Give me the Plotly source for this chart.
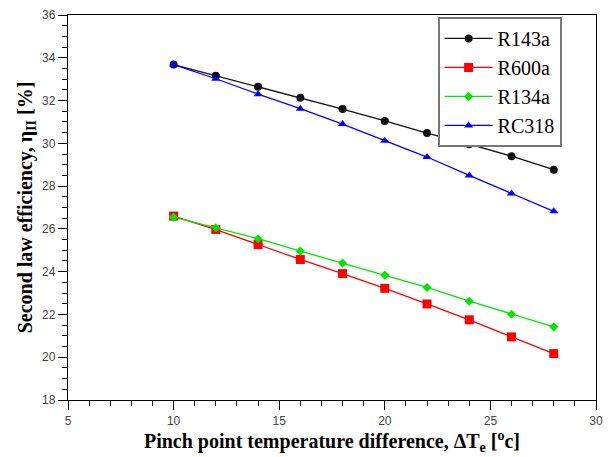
import plotly.graph_objects as go

# pinch point temperature difference [°C]
dT = [10, 12, 14, 16, 18, 20, 22, 24, 26, 28]

# second law efficiency [%] per working fluid
eta_R143a = [33.68, 33.16, 32.65, 32.13, 31.60, 31.05, 30.48, 29.96, 29.40, 28.77]
eta_R600a = [26.60, 25.97, 25.27, 24.57, 23.91, 23.22, 22.49, 21.75, 20.95, 20.17]
eta_R134a = [26.55, 26.05, 25.54, 24.96, 24.40, 23.84, 23.26, 22.62, 22.01, 21.42]
eta_RC318 = [33.68, 33.02, 32.30, 31.62, 30.90, 30.12, 29.36, 28.50, 27.66, 26.82]

series = [
    ('R143a', eta_R143a, '#111111', 'circle', 8),
    ('R600a', eta_R600a, '#ff0000', 'square', 9),
    ('R134a', eta_R134a, '#00e600', 'diamond', 7),
    ('RC318', eta_RC318, '#0000ff', 'triangle-up', 8),
]

serif = 'Liberation Serif'

fig = go.Figure()
for nombre, valores, color, simbolo, tam in series:
    fig.add_trace(go.Scatter(
        x=dT, y=valores, name=nombre, mode='lines+markers',
        line=dict(color=color, width=1.3),
        marker=dict(color=color, symbol=simbolo, size=tam),
    ))

eje = dict(
    showline=True, linecolor='black', linewidth=1.3, mirror=True,
    showgrid=False, zeroline=False, automargin=False,
    ticks='outside', ticklen=9, tickwidth=1.2, tickcolor='black',
    tickfont=dict(family='Liberation Sans', size=12, color='#444444'),
    minor=dict(ticks='outside', ticklen=5, tickwidth=1, tickcolor='black'),
)

# la página tiene 8px de margen en el body
fig.update_layout(
    width=612, height=457,
    margin=dict(l=60, r=24, t=7, b=65),
    paper_bgcolor='white', plot_bgcolor='white',
    font=dict(family=serif, color='black'),
    showlegend=True,
    legend=dict(
        x=0.70, y=0.995, xanchor='left', yanchor='top',
        bgcolor='white', bordercolor='#777777', borderwidth=2,
        font=dict(family=serif, size=20, color='black'),
        tracegroupgap=0, itemwidth=48,
    ),
)

fig.update_xaxes(
    **eje, range=[5, 30], dtick=5, tick0=5,
    title=dict(text='<b>Pinch point temperature difference, ΔT<sub>e</sub> [<sup>o</sup>c]</b>',
               font=dict(family=serif, size=20, color='black'), standoff=4),
)
fig.update_xaxes(minor_dtick=1)

fig.update_yaxes(
    **eje, range=[18, 36], dtick=2, tick0=18,
    title=dict(text='<b>Second law efficiency, η<sub>II</sub> [%]</b>',
               font=dict(family=serif, size=20, color='black'), standoff=4),
)
fig.update_yaxes(minor_dtick=0.5)

fig.write_html("out.html")
